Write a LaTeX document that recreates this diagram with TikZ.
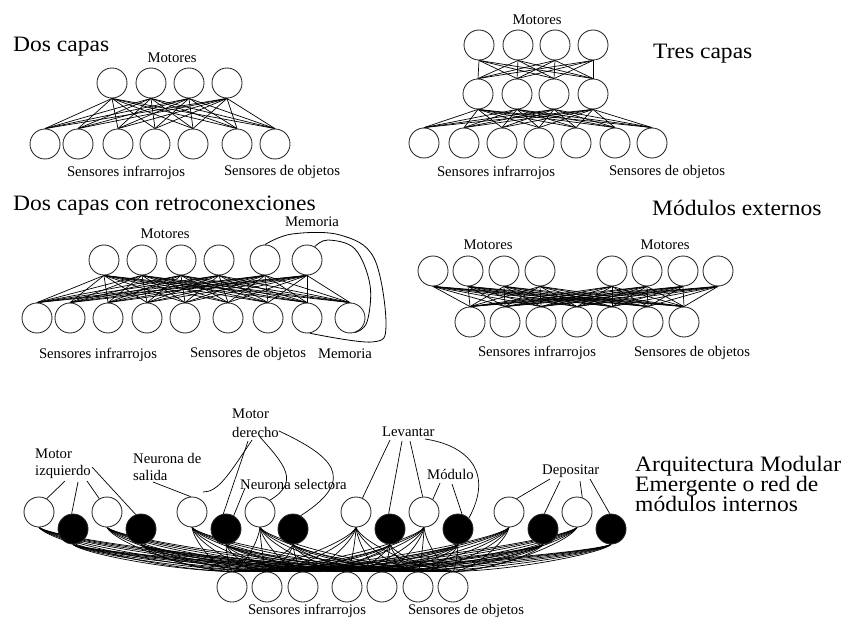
\documentclass[tikz,border=0pt]{standalone}
\usepackage{fontspec}
\setmainfont{Liberation Serif}
\newfontfamily\titlefont[FakeStretch=1.07]{Liberation Serif}
\usetikzlibrary{calc}
\pgfdeclarelayer{bg}
\pgfsetlayers{bg,main}

\tikzset{
  neuron/.style={circle, draw=black!85, line width=0.85bp, minimum size=30bp, inner sep=0pt, fill=white},
  fired/.style={neuron, fill=black},
  link/.style={line width=0.7bp, draw=black},
  lbl/.style={font=\fontsize{14.7bp}{16bp}\selectfont, inner sep=0pt, anchor=base},
  lblw/.style={lbl, anchor=base west},
  ttl/.style={font=\titlefont\fontsize{22bp}{20bp}\selectfont, inner sep=0pt, anchor=base west},
}

\begin{document}
\begin{tikzpicture}[x=1bp, y=-1bp]
\begin{pgfonlayer}{bg}
\fill[white] (0,0) rectangle (843,624);
\end{pgfonlayer}
\useasboundingbox (0,0) rectangle (843,624);

% ---------- Dos capas ----------
\node[ttl] (ta) at (13,52) {Dos capas};
\foreach \i/\x in {1/112,2/151,3/189,4/227}
  \node[neuron] (pa-m\i) at (\x,83) {};
\foreach \i/\x in {1/45,2/78,3/118,4/155,5/193,6/237,7/275}
  \node[neuron] (pa-s\i) at (\x,144) {};
\begin{pgfonlayer}{bg}
\foreach \i in {1,...,4}
  \foreach \j in {1,...,7}
    \draw[link] (pa-m\i.south) -- (pa-s\j.north);
\end{pgfonlayer}
\node[lbl] (pa-lm) at (172,63) {Motores};
\node[lbl] (pa-li) at (126,177) {Sensores infrarrojos};
\node[lbl] (pa-lo) at (282,176) {Sensores de objetos};

% ---------- Tres capas ----------
\node[ttl] (tb) at (653,59) {Tres capas};
\foreach \i/\x in {1/479,2/518,3/555,4/593}
  \node[neuron] (pb-m\i) at (\x,45) {};
\foreach \i/\x in {1/478,2/517,3/554,4/593}
  \node[neuron] (pb-h\i) at (\x,94) {};
\foreach \i/\x in {1/424,2/464,3/502,4/539,5/576,6/615,7/652}
  \node[neuron] (pb-s\i) at (\x,143) {};
\begin{pgfonlayer}{bg}
\foreach \i in {1,...,4}
  \foreach \j in {1,...,4}
    \draw[link] (pb-m\i.south) -- (pb-h\j.north);
\foreach \i in {1,...,4}
  \foreach \j in {1,...,7}
    \draw[link] (pb-h\i.south) -- (pb-s\j.north);
\end{pgfonlayer}
\node[lbl] (pb-lm) at (537,25) {Motores};
\node[lbl] (pb-li) at (496,177) {Sensores infrarrojos};
\node[lbl] (pb-lo) at (667,176) {Sensores de objetos};

% ---------- Dos capas con retroconexciones ----------
\node[ttl] (tc) at (13,211) {Dos capas con retroconexciones};
\foreach \i/\x in {1/104,2/142,3/181,4/219,5/265,6/307}
  \node[neuron] (pc-m\i) at (\x,260) {};
\foreach \i/\x in {1/37,2/70,3/108,4/147,5/185,6/228,7/268,8/307,9/350}
  \node[neuron] (pc-s\i) at (\x,318) {};
\begin{pgfonlayer}{bg}
\foreach \i in {1,...,6}
  \foreach \j in {1,...,9}
    \draw[link] (pc-m\i.south) -- (pc-s\j.north);
\end{pgfonlayer}
% recurrent memory loops
\draw[link, line width=0.8bp] plot[smooth, tension=0.6] coordinates
  {(pc-m5.north) (292,234) (340,235) (374,258) (386,325) (372,342) (pc-s8.-80)};
\draw[link, line width=0.8bp] plot[smooth, tension=0.6] coordinates
  {(pc-m6.60) (328,240) (355,249) (370,285) (367,322) (pc-s9.-70)};
\node[lbl] (pc-lmt) at (312,227) {Memoria};
\node[lbl] (pc-lm) at (165,239) {Motores};
\node[lbl] (pc-li) at (98,358) {Sensores infrarrojos};
\node[lbl] (pc-lo) at (248,357) {Sensores de objetos};
\node[lbl] (pc-lmb) at (345,358) {Memoria};

% ---------- Modulos externos ----------
\node[ttl] (td) at (652,216) {Módulos externos};
\foreach \i/\x in {1/433,2/468,3/504,4/540,5/612,6/647,7/683,8/718}
  \node[neuron] (pd-m\i) at (\x,271) {};
\foreach \i/\x in {1/470,2/505,3/541,4/577,5/612,6/648,7/684}
  \node[neuron] (pd-s\i) at (\x,322) {};
\begin{pgfonlayer}{bg}
\foreach \i in {1,...,8}
  \foreach \j in {1,...,7}
    \draw[link] (pd-m\i.south) -- (pd-s\j.north);
\end{pgfonlayer}
\node[lbl] (pd-lm1) at (488,250) {Motores};
\node[lbl] (pd-lm2) at (665,250) {Motores};
\node[lbl] (pd-li) at (537,356) {Sensores infrarrojos};
\node[lbl] (pd-lo) at (692,356) {Sensores de objetos};

% ---------- Arquitectura modular emergente ----------
\node[ttl] (te1) at (635,471) {Arquitectura Modular};
\node[ttl] (te2) at (635,491) {Emergente o red de};
\node[ttl] (te3) at (635,511) {módulos internos};

\foreach \n/\x/\y/\k in {w1/39/512/neuron,b1/73/529/fired,w2/107/512/neuron,b2/141/529/fired,
    w3/192/512/neuron,b3/226/529/fired,w4/260/512/neuron,b4/293/529/fired,
    w5/356/512/neuron,b5/390/529/fired,w6/424/512/neuron,b6/458/529/fired,
    w7/509/512/neuron,b7/543/529/fired,w8/577/512/neuron,b8/611/529/fired}
  \node[\k] (pe-\n) at (\x,\y) {};
\foreach \j/\sx in {1/232,2/267,3/303,4/347,5/382,6/418,7/453}
  \node[neuron] (pe-s\j) at (\sx,587) {};

\begin{pgfonlayer}{bg}
\foreach \n/\x/\y in {w1/39/512,b1/73/529,w2/107/512,b2/141/529,
    w3/192/512,b3/226/529,w4/260/512,b4/293/529,
    w5/356/512,b5/390/529,w6/424/512,b6/458/529,
    w7/509/512,b7/543/529,w8/577/512,b8/611/529}
  \foreach \j/\sx in {1/232,2/267,3/303,4/347,5/382,6/418,7/453}{
    \pgfmathsetmacro\dx{\sx-\x}
    \pgfmathsetmacro\dy{572-\y-15}
    \draw[link] (pe-\n.south) .. controls +({0.05*\dx},{0.3*\dy}) and +({-0.4*\dx},{-0.05*\dy}) .. (pe-s\j.north);
  }
\end{pgfonlayer}

% labels of the modules
\node[lblw] (pe-mi1) at (35,458) {Motor};
\node[lblw] (pe-mi2) at (35,475) {izquierdo};
\node[lblw] (pe-ns1) at (133,463) {Neurona de};
\node[lblw] (pe-ns2) at (133,480) {salida};
\node[lblw] (pe-md1) at (232,418) {Motor};
\node[lblw] (pe-md2) at (232,437) {derecho};
\node[lblw] (pe-sel) at (240,489) {Neurona selectora};
\node[lblw] (pe-lv) at (382,436) {Levantar};
\node[lblw] (pe-mo) at (427,479) {Módulo};
\node[lblw] (pe-dp) at (542,474) {Depositar};
\node[lbl] (pe-li) at (307,614) {Sensores infrarrojos};
\node[lbl] (pe-lo) at (466,614) {Sensores de objetos};

% label pointers
\coordinate (mi-a) at (65,481);
\coordinate (mi-b) at (78,482);
\coordinate (mi-c) at (87,481);
\coordinate (mi-d) at (92,467);
\coordinate (ns-a) at (153,482);
\coordinate (md-a) at (252,440);
\coordinate (md-b) at (248,441);
\coordinate (md-c) at (260,437);
\coordinate (md-d) at (279,431);
\coordinate (md-hook) at (203,492);
\coordinate (sel-a) at (245,488);
\coordinate (lv-a) at (390,440);
\coordinate (lv-b) at (402,441);
\coordinate (lv-c) at (410,441);
\coordinate (lv-d) at (425,439);
\coordinate (mo-a) at (440,483);
\coordinate (mo-b) at (452,484);
\coordinate (dp-a) at (550,479);
\coordinate (dp-b) at (560,481);
\coordinate (dp-c) at (580,481);
\coordinate (dp-d) at (590,479);

\draw[link] (mi-a) -- (pe-w1.60);
\draw[link] (mi-b) -- (pe-b1.95);
\draw[link] (mi-c) -- (pe-w2.120);
\draw[link] (mi-d) -- (pe-b2.110);
\draw[link] (ns-a) -- (pe-w3.95);
\draw[link] (md-a) .. controls (228,476) and (218,492) .. (md-hook);
\draw[link] (md-b) -- (pe-b3.100);
\draw[link] (sel-a) -- (pe-b3.60);
\draw[link] (md-c) .. controls (285,465) and (300,482) .. (pe-w4.50);
\draw[link] (md-d) .. controls (330,455) and (360,478) .. (pe-b4.60);
\draw[link] (lv-a) -- (pe-w5.65);
\draw[link] (lv-b) -- (pe-b5.95);
\draw[link] (lv-c) -- (pe-w6.95);
\draw[link] (lv-d) .. controls (465,445) and (495,470) .. (pe-b6.45);
\draw[link] (mo-a) -- (pe-w6.55);
\draw[link] (mo-b) -- (pe-b6.75);
\draw[link] (dp-a) -- (pe-w7.60);
\draw[link] (dp-b) -- (pe-b7.85);
\draw[link] (dp-c) -- (pe-w8.70);
\draw[link] (dp-d) -- (pe-b8.95);
\end{tikzpicture}
\end{document}
